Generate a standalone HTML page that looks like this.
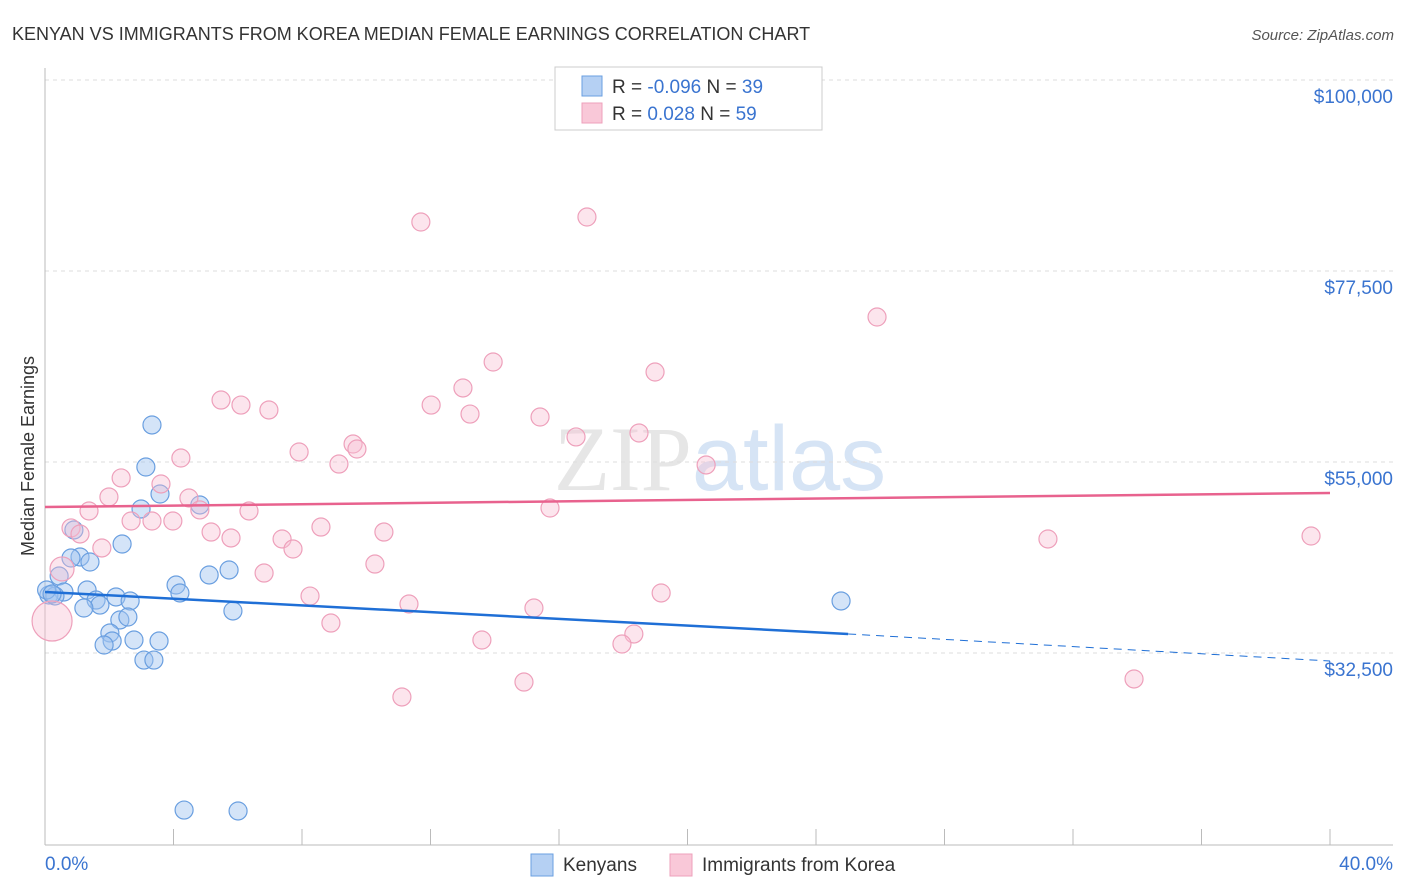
<!DOCTYPE html>
<html><head><meta charset="utf-8"><style>
body{margin:0;background:#fff;font-family:"Liberation Sans",sans-serif}
#c{position:absolute;left:0;top:0}
</style></head><body>
<svg id="c" width="1406" height="892" xmlns="http://www.w3.org/2000/svg">
<text x="12" y="40" font-size="18" fill="#333">KENYAN VS IMMIGRANTS FROM KOREA MEDIAN FEMALE EARNINGS CORRELATION CHART</text>
<text x="1394" y="40" font-size="15" fill="#555" font-style="italic" text-anchor="end">Source: ZipAtlas.com</text>
<text x="720" y="490" font-size="92" fill="#e6e6e6" text-anchor="middle" font-family="Liberation Serif,serif">ZIP<tspan fill="#d6e4f5" font-family="Liberation Sans,sans-serif">atlas</tspan></text>
<g id="grid"></g><g id="axes"></g><g id="marks"></g>
<text transform="translate(34,456) rotate(-90)" font-size="18" fill="#333" text-anchor="middle">Median Female Earnings</text>
<text x="45" y="870" font-size="19" fill="#3a74d0">0.0%</text>
<text x="1393" y="870" font-size="19" fill="#3a74d0" text-anchor="end">40.0%</text>
<g>
<rect x="555" y="67" width="267" height="63" fill="#fff" stroke="#ccc"/>
<rect x="582" y="76" width="20" height="20" fill="#b5d0f3" stroke="#6a9fe0"/>
<text x="612" y="93" font-size="19" fill="#333">R = <tspan fill="#3a74d0">-0.096</tspan>   N = <tspan fill="#3a74d0">39</tspan></text>
<rect x="582" y="103" width="20" height="20" fill="#f9c8d8" stroke="#eea0bb"/>
<text x="612" y="120" font-size="19" fill="#333">R =   <tspan fill="#3a74d0">0.028</tspan>   N = <tspan fill="#3a74d0">59</tspan></text>
</g>
<g>
<rect x="531" y="854" width="22" height="22" fill="#b5d0f3" stroke="#6a9fe0"/>
<text x="563" y="871" font-size="19" fill="#333">Kenyans</text>
<rect x="670" y="854" width="22" height="22" fill="#f9c8d8" stroke="#eea0bb"/>
<text x="702" y="871" font-size="19" fill="#333">Immigrants from Korea</text>
</g>
</svg>
<script>
const yTicks=[100000,77500,55000,32500];
const yTickLabels=["$100,000","$77,500","$55,000","$32,500"];
const xTicks=[0,4,8,12,16,20,24,28,32,36,40];
const kenyanX=[3.33,3.14,3.58,4.82,2.99,0.90,2.40,1.09,0.81,1.40,0.44,5.11,5.73,4.08,4.20,1.31,0.59,0.12,0.31,0.05,1.59,1.71,2.21,2.65,1.21,2.33,2.58,2.02,2.09,1.84,2.77,3.55,3.08,3.39,5.85,24.78,4.33,6.01,0.22];
const kenyanY=[59360,54410,51230,49935,49465,46990,45340,43810,43690,43220,41570,41690,42280,40510,39570,39920,39690,39330,39215,39920,38740,38150,39100,38630,37800,36390,36740,34860,33910,33440,34030,33910,31670,31670,37450,38630,14000,13890,39450];
const koreaX=[11.70,16.87,25.90,13.95,18.99,13.01,5.48,6.10,6.97,12.02,13.23,15.41,18.49,16.53,9.59,9.71,7.91,4.23,9.15,20.58,2.37,3.61,1.99,4.48,4.82,1.37,6.35,15.72,2.68,3.33,3.98,0.81,1.09,5.17,5.79,10.55,8.59,7.38,7.72,1.77,31.22,39.41,10.27,6.82,0.53,0.22,8.25,19.18,11.33,15.22,8.90,13.60,18.33,17.96,14.91,11.11,33.90];
const koreaY=[83270,83860,72080,66780,65600,63720,62300,61710,61130,61710,60650,60300,58420,57950,57120,56530,56180,55470,54760,54650,53120,52410,50880,50760,49350,49230,49230,49580,48050,48050,48050,47230,46520,46750,46050,46750,47340,45930,44750,44870,45930,46280,42980,41920,42400,36270,39210,39570,38270,37800,36030,34030,34740,33560,29080,27320,29440];
const koreaR=[9,9,9,9,9,9,9,9,9,9,9,9,9,9,9,9,9,9,9,9,9,9,9,9,9,9,9,9,9,9,9,9,9,9,9,9,9,9,9,9,9,9,9,9,12,20,9,9,9,9,9,9,9,9,9,9,9];
const kenyanTrend=[39690,34740,31560]; // at 0%, 25%, 40%
const koreaTrend=[49700,51350]; // at 0%, 40%
const NS="http://www.w3.org/2000/svg";
const X=p=>45+p*1285/40;
const Y=v=>462-(v-55000)*191/22500;
function mk(t,a,parent){const e=document.createElementNS(NS,t);for(const k in a)e.setAttribute(k,a[k]);document.getElementById(parent).appendChild(e);return e;}
yTicks.forEach((v,i)=>{
 const l=mk('line',{x1:45,x2:1393,y1:Y(v),y2:Y(v),stroke:'#ddd','stroke-dasharray':'4,4'},'grid');
 
 
 const t=mk('text',{x:1393,y:Y(v)+23,'font-size':19,fill:'#3a74d0','text-anchor':'end'},'grid');
 t.textContent=yTickLabels[i];
 
 
});
const ya=mk('line',{x1:45,x2:45,y1:68,y2:845,stroke:'#bbb'},'axes');


const xa=mk('line',{x1:45,x2:1393,y1:845,y2:845,stroke:'#bbb'},'axes');


xTicks.forEach(p=>{
 const t=mk('line',{x1:X(p),x2:X(p),y1:829,y2:845,stroke:'#bbb'},'axes');
 
 
});
kenyanX.forEach((p,i)=>{
 const c=mk('circle',{cx:X(p),cy:Y(kenyanY[i]),r:9,fill:'rgba(160,196,240,0.45)',stroke:'#6a9fe0','stroke-width':1.2},'marks');
 
 
});
koreaX.forEach((p,i)=>{
 const c=mk('circle',{cx:X(p),cy:Y(koreaY[i]),r:koreaR[i],fill:'rgba(248,190,210,0.4)',stroke:'#eea0bb','stroke-width':1.2},'marks');
 
 
});
const kt=mk('line',{x1:X(0),y1:Y(kenyanTrend[0]),x2:X(25),y2:Y(kenyanTrend[1]),stroke:'#1f6fd6','stroke-width':2.5},'marks');


const kd=mk('line',{x1:X(25),y1:Y(kenyanTrend[1]),x2:X(40),y2:Y(kenyanTrend[2]),stroke:'#1f6fd6','stroke-width':1,'stroke-dasharray':'8,6'},'marks');


const pt=mk('line',{x1:X(0),y1:Y(koreaTrend[0]),x2:X(40),y2:Y(koreaTrend[1]),stroke:'#e8628e','stroke-width':2.5},'marks');


</script>
</body></html>
